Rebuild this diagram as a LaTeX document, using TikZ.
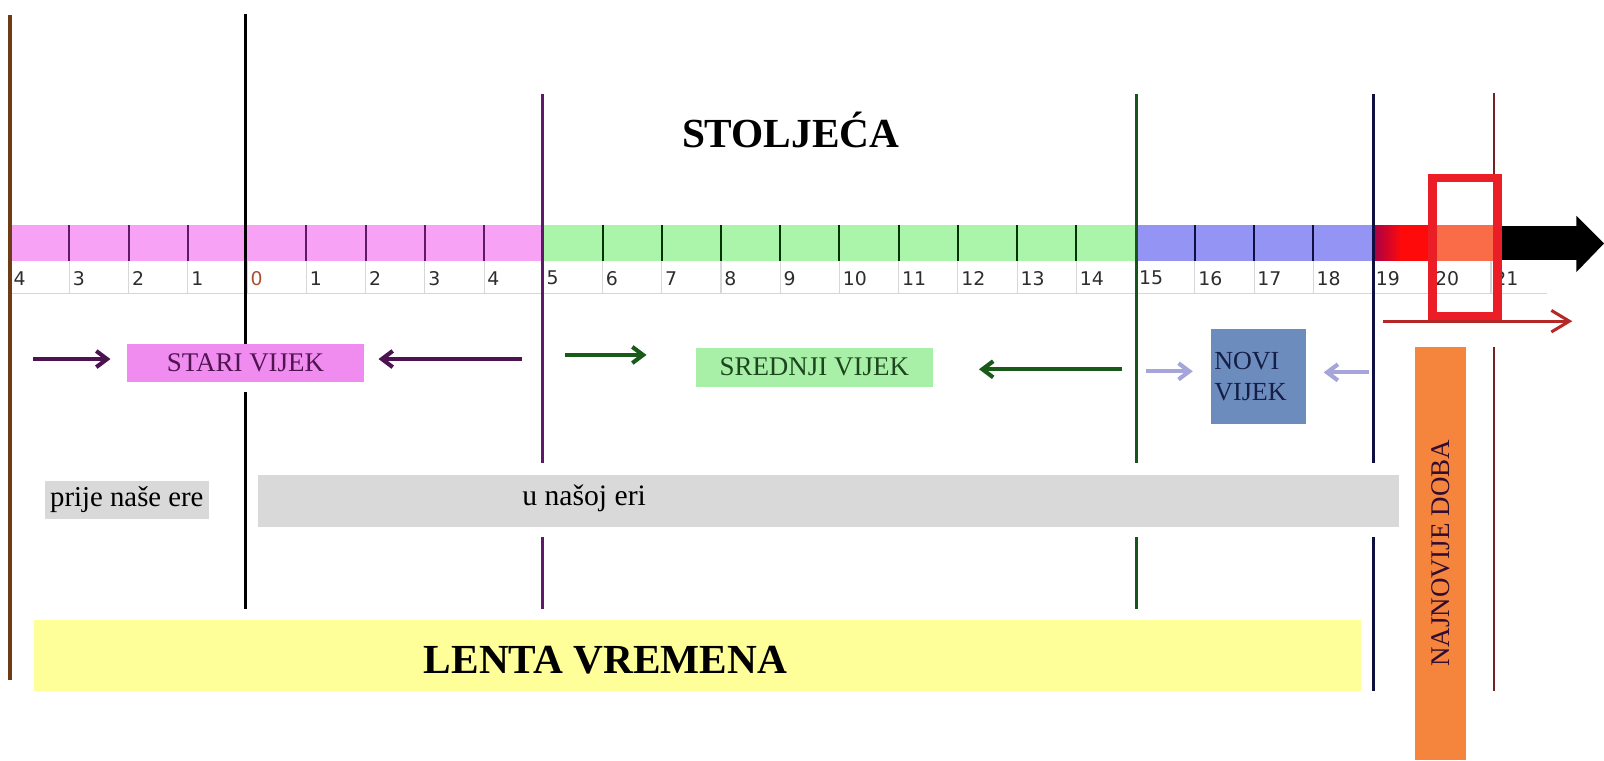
\documentclass[tikz,border=0pt]{standalone}
\usepackage{fontspec}
\setmainfont{Liberation Serif}
\newfontfamily\numfont{DejaVu Sans}
\usepackage{xcolor}
\usetikzlibrary{arrows,arrows.meta,calc}
\tikzset{>=latex}
\def\px{0.02cm}

\definecolor{bandpink}{RGB}{248,162,245}
\definecolor{bandgreen}{RGB}{170,245,170}
\definecolor{bandblue}{RGB}{148,148,245}
\definecolor{bandred}{RGB}{255,10,10}
\definecolor{banddeep}{RGB}{170,0,70}
\definecolor{bandorange}{RGB}{250,108,72}
\definecolor{sepgray}{RGB}{215,215,215}
\definecolor{numgray}{RGB}{45,45,45}
\definecolor{zerored}{RGB}{170,80,50}
\definecolor{lnbrown}{RGB}{110,60,20}
\definecolor{lnpurple}{RGB}{95,25,105}
\definecolor{lngreen}{RGB}{25,85,25}
\definecolor{lnnavy}{RGB}{15,15,65}
\definecolor{lndarkred}{RGB}{120,35,35}
\definecolor{starifill}{RGB}{240,140,240}
\definecolor{staritext}{RGB}{80,20,80}
\definecolor{srednjifill}{RGB}{168,240,168}
\definecolor{srednjitext}{RGB}{30,70,30}
\definecolor{novifill}{RGB}{108,140,190}
\definecolor{novitext}{RGB}{20,30,70}
\definecolor{arpurple}{RGB}{75,20,80}
\definecolor{argreen}{RGB}{25,90,25}
\definecolor{arlilac}{RGB}{165,165,218}
\definecolor{arred}{RGB}{180,40,40}
\definecolor{framered}{RGB}{235,30,40}
\definecolor{eragray}{RGB}{217,217,217}
\definecolor{lentayellow}{RGB}{255,255,153}
\definecolor{najorange}{RGB}{245,132,60}

\tikzset{
  periodline/.style={line width=1.7pt},
  bandtick/.style={line width=1.1pt},
  cellsep/.style={draw=sepgray, line width=0.6pt},
  yearnum/.style={anchor=west, inner sep=0pt, font=\numfont\fontsize{10.5}{12}\selectfont},
  periodbox/.style={inner sep=0pt, font=\fontsize{15}{17}\selectfont},
  erabox/.style={fill=eragray, inner sep=0pt},
  periodarrow/.style={-{Straight Barb[length=6pt,width=9pt]}, line width=2.3pt},
}

\begin{document}
\begin{tikzpicture}[x=0.02cm,y=-0.02cm]
  \useasboundingbox (0,0) rectangle (1568,743);
  % Band
  \fill[bandpink] (10,220) rectangle (530,255);
  \fill[bandgreen] (530,220) rectangle (1111,255);
  \fill[bandblue] (1111,220) rectangle (1343,255);
  \shade[left color=banddeep, right color=bandred] (1343,220) rectangle (1370,255);
  \fill[bandred] (1370,220) rectangle (1400,255);
  \fill[bandorange] (1400,220) rectangle (1466,255);
  \fill[black] (1466,221) -- (1541,221) -- (1541,211) -- (1568,238)
    -- (1541,266) -- (1541,254) -- (1466,254) -- cycle;
  % Ticks and numbers
  \foreach \k in {1,...,25}
    \draw[cellsep] ({10+57.9*\k},255) -- ({10+57.9*\k},287);
  \draw[cellsep] (10,287) -- (1512,287);
  \foreach \k in {1,2,3,5,6,7,8}
    \draw[bandtick, lnpurple] ({10+57.9*\k},220) -- ({10+57.9*\k},255);
  \foreach \k in {10,...,18}
    \draw[bandtick, black!80!green] ({10+57.9*\k},220) -- ({10+57.9*\k},255);
  \foreach \k in {20,21,22}
    \draw[bandtick, lnnavy] ({10+57.9*\k},220) -- ({10+57.9*\k},255);
  \foreach \k in {0,...,25} {
    \pgfmathtruncatemacro\yr{abs(\k-4)}
    \ifnum\k=4 \def\numcol{zerored}\else\def\numcol{numgray}\fi
    \node[yearnum, text=\numcol] (n\k) at ({13+57.9*\k},272) {\yr};
  }
  % Lines
  \draw[periodline, lnbrown, line width=2.3pt] (10,15) -- (10,665);
  \draw[periodline, black] (240,14) -- (240,336) (240,383) -- (240,595);
  \draw[periodline, lnpurple] (530,92) -- (530,453) (530,525) -- (530,595);
  \draw[periodline, lngreen] (1111,92) -- (1111,453) (1111,525) -- (1111,595);
  \draw[periodline, lnnavy] (1343,92) -- (1343,453) (1343,525) -- (1343,675);
  \draw[lndarkred, line width=1.1pt] (1460,91) -- (1460,172) (1460,339) -- (1460,675);
  % Title
  \node[font=\bfseries\fontsize{23}{26}\selectfont] (title) at (773,127) {STOLJEĆA};
  % Periods
  \node[periodbox, fill=starifill, text=staritext, minimum width=232*\px,
    minimum height=37*\px] (stari) at (240,354.5) {STARI VIJEK};
  \node[periodbox, fill=srednjifill, text=srednjitext, minimum width=232*\px,
    minimum height=38*\px] (srednji) at (796,359) {SREDNJI VIJEK};
  \node[periodbox, fill=novifill, text=novitext, align=left, text width=87*\px,
    inner xsep=3*\px, minimum height=92*\px, font=\fontsize{14.5}{17}\selectfont]
    (novi) at (1230.5,368) {NOVI\\VIJEK};
  \coordinate (stari-a) at (32,351);   \coordinate (stari-b) at (108,351);
  \coordinate (stari-c) at (510,351);  \coordinate (stari-d) at (370,351);
  \coordinate (srednji-a) at (552,347);  \coordinate (srednji-b) at (632,347);
  \coordinate (srednji-c) at (1097,361); \coordinate (srednji-d) at (957,361);
  \coordinate (novi-a) at (1120,363);  \coordinate (novi-b) at (1166,363);
  \coordinate (novi-c) at (1338,364);  \coordinate (novi-d) at (1294,364);
  \draw[periodarrow, arpurple] (stari-a) -- (stari-b);
  \draw[periodarrow, arpurple] (stari-c) -- (stari-d);
  \draw[periodarrow, argreen] (srednji-a) -- (srednji-b);
  \draw[periodarrow, argreen] (srednji-c) -- (srednji-d);
  \draw[periodarrow, arlilac] (novi-a) -- (novi-b);
  \draw[periodarrow, arlilac] (novi-c) -- (novi-d);
  % 20. stoljece
  \node[draw=framered, line width=5pt, minimum width=64*\px, minimum height=135*\px,
    inner sep=0pt] (frame) at (1432,241.5) {};
  \coordinate (doba-a) at (1352,314); \coordinate (doba-b) at (1537,314);
  \draw[arred, line width=1.7pt, -{Straight Barb[length=10pt,width=12pt,line width=1.7pt]}]
    (doba-a) -- (doba-b);
  \node[fill=najorange, rotate=90, minimum width=404*\px, minimum height=50*\px,
    inner sep=0pt, text=staritext!60!black, font=\fontsize{15}{17}\selectfont]
    (najnovije) at (1408,541) {NAJNOVIJE DOBA};
  % Eras
  \node[erabox, minimum width=160*\px, minimum height=37*\px,
    font=\fontsize{16}{18}\selectfont] (prije) at (124,488.5) {prije naše ere};
  \node[erabox, minimum width=1116*\px, minimum height=51*\px] (nasa) at (810,489.5) {};
  \node[font=\fontsize{16.5}{18}\selectfont, inner sep=0pt] (nasa-t) at (571,487) {u našoj eri};
  % Lenta
  \node[fill=lentayellow, minimum width=1297*\px, minimum height=69*\px,
    inner sep=0pt] (lenta) at (681.5,640.5) {};
  \node[font=\bfseries\fontsize{23}{26}\selectfont, inner sep=0pt] (lenta-t) at (592,645) {LENTA VREMENA};
\end{tikzpicture}
\end{document}
